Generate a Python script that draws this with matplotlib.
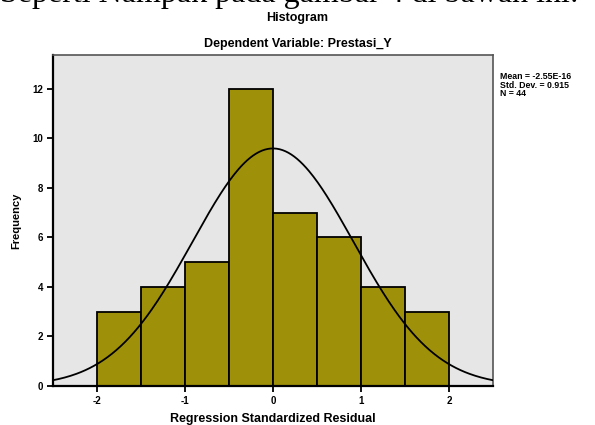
import matplotlib
matplotlib.use("Agg")
import matplotlib.pyplot as plt
import numpy as np

# Histogram data
bin_edges = [-2.0, -1.5, -1.0, -0.5, 0.0, 0.5, 1.0, 1.5, 2.0]
counts = [3, 4, 5, 12, 7, 6, 4, 3]
mean = -2.55e-16
std_dev = 0.915
n = 44
x_ticks = [-2, -1, 0, 1, 2]
y_ticks = [0, 2, 4, 6, 8, 10, 12]

plt.rcParams['font.family'] = ['Liberation Sans', 'DejaVu Sans']
plt.rcParams['axes.unicode_minus'] = False

fig = plt.figure(figsize=(5.95, 4.25), dpi=100)
ax = fig.add_axes([0.089, 0.092, 0.7395, 0.7788])
ax.set_facecolor("#e6e6e6")

widths = np.diff(bin_edges)
ax.bar(bin_edges[:-1], counts, width=widths, align="edge", color="#9f900a",
       edgecolor="black", linewidth=1.3, zorder=2)

# normal curve scaled to the histogram
xs = np.linspace(-2.5, 2.5, 300)
bw = widths[0]
ys = n * bw * np.exp(-0.5 * ((xs - mean) / std_dev) ** 2) / (std_dev * np.sqrt(2 * np.pi))
ax.plot(xs, ys, color="black", linewidth=1.3, zorder=3)

ax.set_xlim(-2.5, 2.5)
ax.set_ylim(0, 13.37)
ax.set_xticks(x_ticks)
ax.set_yticks(y_ticks)
ax.tick_params(axis="both", labelsize=7, width=1.3, length=4, direction="out", pad=3)
for lab in ax.get_xticklabels() + ax.get_yticklabels():
    lab.set_fontweight("bold")
for s in ["left", "bottom"]:
    ax.spines[s].set_linewidth(1.6)
    ax.spines[s].set_color("black")
for s in ["top", "right"]:
    ax.spines[s].set_linewidth(1.2)
    ax.spines[s].set_color("#555555")

ax.set_xlabel("Regression Standardized Residual", fontsize=9, fontweight="bold", labelpad=5)
ax.set_ylabel("Frequency", fontsize=8, fontweight="bold", labelpad=8)

fig.text(0.5, 0.958, "Histogram", ha="center", va="center", fontsize=9, fontweight="bold")
fig.text(0.5, 0.896, "Dependent Variable: Prestasi_Y", ha="center", va="center",
         fontsize=9, fontweight="bold")
fig.text(0.841, 0.83, "Mean = -2.55E-16\nStd. Dev. = 0.915\nN = 44", ha="left", va="top",
         fontsize=6.3, fontweight="bold", linespacing=0.9)

# clipped line of document text above the chart (cut off in the reference too)
fig.text(0.0, 0.995, "Seperti Nampak pada gambar 4 di bawah ini:", ha="left", va="baseline",
         fontsize=23, family=["Liberation Serif", "DejaVu Serif"])

fig.savefig("out.png", dpi=100)
